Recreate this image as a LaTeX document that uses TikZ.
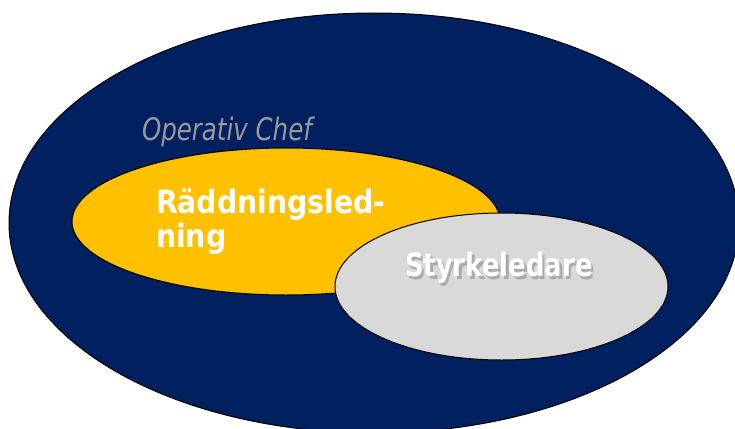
\documentclass[tikz,border=0pt]{standalone}
\usepackage{fontspec}
\setmainfont{DejaVu Sans}
\newfontfamily\chefFont[FakeStretch=0.79]{DejaVu Sans}
\newfontfamily\boldFont[FakeStretch=0.885]{DejaVu Sans}
\newfontfamily\styrFont[FakeStretch=0.81]{DejaVu Sans}
\definecolor{navy}{HTML}{002060}
\definecolor{gold}{HTML}{FFC000}
\definecolor{lgray}{HTML}{D9D9D9}
\definecolor{chefgray}{HTML}{9A9A9A}
\tikzset{
  blob/.style={draw=black, line width=1pt},
  lbl/.style={anchor=base west, inner sep=0pt, outer sep=0pt},
}
\begin{document}
\begin{tikzpicture}[x=1pt,y=-1pt]
\useasboundingbox (0,0) rectangle (735,428);
\clip (0,0) rectangle (735,428);
\fill[white] (0,0) rectangle (735,428);
\draw[blob, fill=navy] (374,223) ellipse [x radius=365pt, y radius=210pt];
\draw[blob, fill=gold] (286,221.5) ellipse [x radius=214pt, y radius=73.5pt];
\draw[blob, fill=lgray] (501.5,286.5) ellipse [x radius=166.5pt, y radius=73.5pt];
\node[lbl, text=chefgray, font=\chefFont\itshape\fontsize{31}{37}\selectfont] (chef) at (142,140) {Operativ Chef};
\node[lbl, text=white, font=\boldFont\bfseries\fontsize{32}{38}\selectfont] (rl1) at (156,213) {Räddningsled-};
\node[lbl, text=white, font=\boldFont\bfseries\fontsize{32}{38}\selectfont] (rl2) at (156,247) {ning};
\node[lbl, text=black!45, opacity=0.6, font=\styrFont\bfseries\fontsize{32}{38}\selectfont] (styrshadow) at (407.5,279) {Styrkeledare};
\node[lbl, text=white, font=\styrFont\bfseries\fontsize{32}{38}\selectfont] (styr) at (405,276.5) {Styrkeledare};
\end{tikzpicture}
\end{document}
